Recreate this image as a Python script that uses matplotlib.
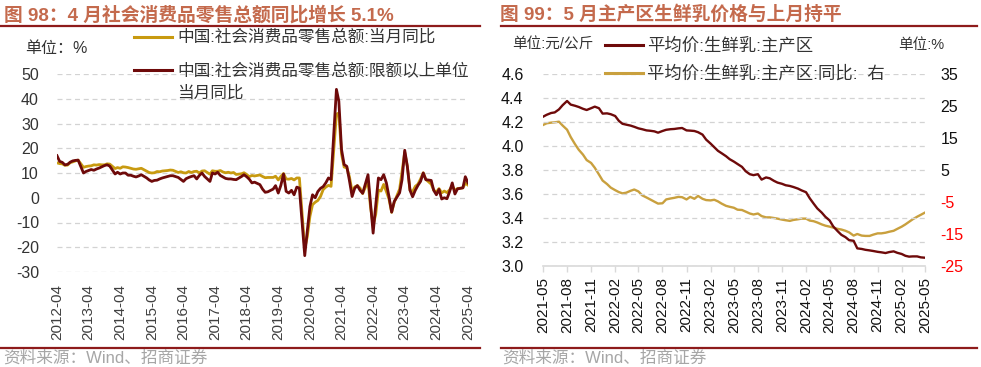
import numpy as np
import pandas as pd
import matplotlib
matplotlib.use("Agg")
import matplotlib.pyplot as plt
from matplotlib.lines import Line2D

plt.rcParams['font.family'] = ['Liberation Sans', 'Noto Sans CJK SC']
plt.rcParams['axes.unicode_minus'] = False

nan = np.nan
# ---------------- Left chart data (monthly, 2012-04 .. 2025-04) ----------------
retail_months = pd.date_range('2012-04-01', '2025-04-01', freq='MS')
retail_total = [
    14.1, 13.8, 13.7, 13.1, 13.2, 14.2, 14.5, 14.9, 15.2,
    nan, 12.3, 12.6, 12.8, 12.9, 13.3, 13.2, 13.4, 13.3, 13.3, 13.7, 13.6,
    nan, 11.8, 12.2, 11.9, 12.5, 12.4, 12.2, 11.9, 11.6, 11.5, 11.7, 11.9,
    nan, 10.7, 10.2, 10.0, 10.1, 10.6, 10.5, 10.8, 10.9, 11.0, 11.2, 11.1,
    nan, 10.2, 10.5, 10.1, 10.0, 10.6, 10.2, 10.6, 10.7, 10.0, 10.8, 10.9,
    nan, 9.5, 10.9, 10.7, 10.7, 11.0, 10.4, 10.1, 10.3, 10.0, 10.2, 9.4,
    nan, 9.7, 10.1, 9.4, 8.5, 9.0, 8.8, 9.0, 9.2, 8.6, 8.1, 8.2,
    nan, 8.2, 8.7, 7.2, 8.6, 9.8, 7.6, 7.5, 7.8, 7.2, 8.0, 8.0,
    nan, -20.5, -15.8, -7.5, -2.8, -1.8, -1.1, 0.5, 3.3, 4.3, 5.0, 4.6,
    nan, 33.8, 34.2, 17.7, 12.4, 12.1, 8.5, 2.5, 4.4, 4.9, 3.9, 1.7,
    nan, 6.7, -3.5, -11.1, -6.7, 3.1, 2.7, 5.4, 2.5, -0.5, -5.9, -1.8,
    nan, 3.5, 10.6, 18.4, 12.7, 3.1, 2.5, 4.6, 5.5, 7.6, 10.1, 7.4,
    nan, 5.5, 3.1, 2.3, 3.7, 2.0, 2.7, 2.1, 3.2, 4.8, 3.0, 3.7,
    nan, 4.0, 5.9, 5.1,
]
retail_above_quota = [
    17.0, 14.7, 14.3, 13.3, 13.5, 14.4, 14.9, 15.1, 15.2,
    nan, 10.0, 10.6, 11.0, 11.4, 11.1, 11.6, 12.0, 12.5, 13.0, 13.3, 12.8,
    nan, 9.6, 10.3, 9.6, 10.0, 10.0, 9.1, 9.1, 8.7, 8.4, 8.8, 9.3,
    nan, 8.0, 7.2, 6.6, 7.0, 7.1, 7.6, 8.0, 8.3, 8.6, 8.9, 8.9,
    nan, 8.2, 7.4, 6.6, 7.7, 8.2, 8.6, 8.9, 7.6, 9.0, 10.0, 8.6,
    nan, 6.6, 10.0, 9.6, 10.3, 9.0, 8.4, 7.8, 7.6, 7.6, 7.4, 7.3,
    nan, 8.6, 9.3, 8.5, 7.5, 6.0, 6.3, 5.8, 5.3, 3.5, 2.2, 2.4,
    nan, 3.5, 4.9, 1.9, 5.0, 9.6, 2.6, 1.9, 3.0, 1.2, 4.3, 3.9,
    nan, -23.4, -13.5, -3.5, 1.2, 0.0, 2.5, 3.8, 4.5, 6.0, 8.0, 7.3,
    nan, 43.8, 39.0, 19.5, 13.4, 12.7, 7.0, 0.5, 3.9, 4.9, 3.0, 1.8,
    nan, 9.3, -2.0, -14.3, -3.0, 8.0, 7.3, 9.3, 6.0, 0.5, -5.8, -1.5,
    nan, 2.0, 7.3, 19.2, 12.7, 3.0, 0.4, 3.0, 5.0, 6.6, 10.0, 7.3,
    nan, 7.0, 3.0, 1.2, 3.4, -0.5, 0.0, -0.4, 2.5, 6.0, 1.5, 3.6,
    nan, 4.0, 8.5, 6.0,
]
left_yticks = [-30, -20, -10, 0, 10, 20, 30, 40, 50]
left_xtick_labels = [f'{y}-04' for y in range(2012, 2026)]
left_legend = ['中国:社会消费品零售总额:当月同比',
               '中国:社会消费品零售总额:限额以上单位', '当月同比']

# ---------------- Right chart data (semi-monthly, 2021-05 .. 2025-05) ----------------
milk_dates = pd.date_range('2021-05-01', periods=97, freq='SMS')
milk_price = [
    4.244, 4.26, 4.275, 4.28, 4.305, 4.34, 4.375, 4.345, 4.335, 4.325,
    4.31, 4.30, 4.315, 4.328, 4.315, 4.27, 4.272, 4.265, 4.25, 4.21,
    4.185, 4.178, 4.17, 4.16, 4.147, 4.14, 4.13, 4.127, 4.122, 4.111,
    4.125, 4.135, 4.14, 4.142, 4.147, 4.15, 4.13, 4.128, 4.125, 4.115,
    4.095, 4.053, 4.02, 3.99, 3.96, 3.94, 3.915, 3.89, 3.87, 3.85,
    3.826, 3.79, 3.765, 3.757, 3.765, 3.72, 3.738, 3.731, 3.71, 3.695,
    3.685, 3.673, 3.667, 3.658, 3.645, 3.63, 3.615, 3.565, 3.52, 3.48,
    3.445, 3.41, 3.38, 3.33, 3.29, 3.26, 3.24, 3.215, 3.21, 3.147,
    3.142, 3.135, 3.13, 3.125, 3.118, 3.114, 3.108, 3.116, 3.122, 3.11,
    3.10, 3.085, 3.078, 3.08, 3.08, 3.072, 3.069,
]
milk_yoy = [
    19.06, 19.6, 19.8, 19.9, 20.1, 18.9, 17.6, 15.3, 13.0, 11.3,
    9.8, 8.1, 7.2, 5.7, 3.6, 1.7, 0.6, -0.5, -1.3, -1.9,
    -2.3, -2.1, -1.5, -1.1, -1.7, -2.9, -3.6, -4.2, -4.9, -5.5,
    -5.4, -4.2, -3.9, -3.7, -3.4, -3.5, -4.2, -3.4, -4.0, -3.1,
    -4.0, -4.4, -4.5, -4.3, -4.8, -5.5, -6.2, -6.5, -6.8, -7.4,
    -7.5, -8.0, -8.6, -8.9, -8.6, -9.4, -9.8, -9.8, -10.0, -10.2,
    -10.5, -10.7, -10.9, -10.6, -10.4, -10.2, -10.2, -10.8, -11.0, -11.4,
    -12.0, -12.4, -12.7, -13.0, -13.4, -13.6, -14.0, -14.5, -15.5, -15.0,
    -15.5, -15.6, -15.6, -15.2, -14.8, -14.8, -14.6, -14.3, -14.0, -13.4,
    -12.7, -12.0, -11.2, -10.4, -9.6, -9.0, -8.3,
]
right_left_ticks = [3.0, 3.2, 3.4, 3.6, 3.8, 4.0, 4.2, 4.4, 4.6]
right_right_ticks = [-25, -15, -5, 5, 15, 25, 35]
right_xtick_dates = pd.date_range('2021-05-01', '2025-05-01', freq='3MS')
right_legend = ['平均价:生鲜乳:主产区', '平均价:生鲜乳:主产区:同比:  右']

# ---------------- Styles ----------------
W, H = 981, 367
DARK = '#6E0A0A'
GOLD = '#C89A10'
GOLD2 = '#C9A03E'
TITLE_C = '#C46A4D'
RULE_C = '#8E1B1B'
GRID_C = '#D3D3D3'

def fx(px):
    return px / W

def fy(py):
    return 1 - py / H

fig = plt.figure(figsize=(W / 100, H / 100), dpi=100)
fig.patch.set_facecolor('white')

# ================= Left chart =================
axl = fig.add_axes([fx(57), fy(272), fx(468) - fx(57), fy(74) - fy(272)])
s_tot = pd.Series(retail_total, index=retail_months).dropna()
s_abv = pd.Series(retail_above_quota, index=retail_months).dropna()
axl.plot(s_tot.index, s_tot.values, color=GOLD, lw=2.0, zorder=3)
axl.plot(s_abv.index, s_abv.values, color=DARK, lw=2.0, zorder=4)
axl.set_ylim(-30, 50)
axl.set_yticks(left_yticks)
axl.set_xlim(retail_months[0], retail_months[-1])
xt = pd.to_datetime(['%s-01' % s for s in left_xtick_labels])
axl.set_xticks(xt)
axl.set_xticklabels(left_xtick_labels, rotation=90)
axl.grid(axis='y', color=GRID_C, linestyle=(0, (4, 3)), lw=0.9)
axl.grid(axis='x', visible=False)
for sp in axl.spines.values():
    sp.set_visible(False)
axl.tick_params(axis='y', length=0, pad=13, labelsize=11.5, labelcolor='#333333')
axl.tick_params(axis='x', length=0, pad=9, labelsize=11, labelcolor='#404040')

fig.text(fx(4), fy(15), '图 98：4 月社会消费品零售总额同比增长 5.1%', fontsize=13.5,
         fontweight='bold', color=TITLE_C, va='center', ha='left')
fig.add_artist(Line2D([0, fx(480)], [fy(26), fy(26)], color=RULE_C, lw=1.6))
fig.add_artist(Line2D([0, fx(480)], [fy(348), fy(348)], color=RULE_C, lw=1.6))
fig.text(fx(3), fy(358), '资料来源：Wind、招商证券', fontsize=12, color='#A6A6A6',
         va='center', ha='left')
fig.text(fx(25), fy(48), '单位：%', fontsize=11.5, color='#333333', va='center', ha='left')
fig.add_artist(Line2D([fx(134), fx(172)], [fy(37), fy(37)], color=GOLD, lw=2.2))
fig.text(fx(177), fy(37), left_legend[0], fontsize=12, color='#333333', va='center', ha='left')
fig.add_artist(Line2D([fx(134), fx(172)], [fy(70), fy(70)], color=DARK, lw=2.2))
fig.text(fx(177), fy(71), left_legend[1], fontsize=12, color='#333333', va='center', ha='left')
fig.text(fx(177), fy(93), left_legend[2], fontsize=12, color='#333333', va='center', ha='left')

# ================= Right chart =================
axr = fig.add_axes([fx(543), fy(266), fx(925) - fx(543), fy(74) - fy(266)])
axr.plot(milk_dates, milk_price, color=DARK, lw=1.7, zorder=4)
axr.set_ylim(3.0, 4.6)
axr.set_yticks(right_left_ticks)
axr.set_yticklabels([f'{v:.1f}' for v in right_left_ticks])
axr.set_xlim(milk_dates[0], milk_dates[-1])
axr.set_xticks(right_xtick_dates)
axr.set_xticklabels([d.strftime('%Y-%m') for d in right_xtick_dates], rotation=90)
axr.grid(axis='y', color=GRID_C, linestyle=(0, (4, 3)), lw=0.9)
axr.grid(axis='x', visible=False)
for k, sp in axr.spines.items():
    sp.set_visible(k == 'bottom')
axr.spines['bottom'].set_color('#D9D9D9')
axr.spines['bottom'].set_linewidth(1.2)
axr.tick_params(axis='y', length=0, pad=14, labelsize=11.5, labelcolor='#111111')
axr.tick_params(axis='x', length=4, width=1, color='#D9D9D9', pad=4, labelsize=11,
                labelcolor='#111111')

ax2 = axr.twinx()
ax2.plot(milk_dates, milk_yoy, color=GOLD2, lw=1.7, zorder=3)
ax2.set_ylim(-25, 35)
ax2.set_yticks(right_right_ticks)
for sp in ax2.spines.values():
    sp.set_visible(False)
ax2.tick_params(axis='y', length=0, pad=11, labelsize=11.5)
for lab, v in zip(ax2.get_yticklabels(), right_right_ticks):
    lab.set_color('#FF0000' if v < 0 else '#111111')
axr.set_zorder(ax2.get_zorder() + 1)
axr.patch.set_visible(False)

fig.text(fx(500), fy(15), '图 99：5 月主产区生鲜乳价格与上月持平', fontsize=13.5,
         fontweight='bold', color=TITLE_C, va='center', ha='left')
fig.add_artist(Line2D([fx(501), fx(977)], [fy(26), fy(26)], color=RULE_C, lw=1.6))
fig.add_artist(Line2D([fx(501), fx(977)], [fy(348), fy(348)], color=RULE_C, lw=1.6))
fig.text(fx(502), fy(358), '资料来源：Wind、招商证券', fontsize=12, color='#A6A6A6',
         va='center', ha='left')
fig.text(fx(512), fy(45), '单位:元/公斤', fontsize=10.5, color='#333333', va='center', ha='left')
fig.text(fx(898), fy(45), '单位:%', fontsize=10.5, color='#333333', va='center', ha='left')
fig.add_artist(Line2D([fx(605), fx(643)], [fy(45), fy(45)], color=DARK, lw=2.2))
fig.text(fx(647), fy(45), right_legend[0], fontsize=12.5, color='#333333', va='center', ha='left')
fig.add_artist(Line2D([fx(605), fx(643)], [fy(73), fy(73)], color=GOLD2, lw=2.2))
fig.text(fx(647), fy(73), right_legend[1], fontsize=12.5, color='#333333', va='center', ha='left')

fig.savefig('out.png', dpi=100, facecolor='white')
